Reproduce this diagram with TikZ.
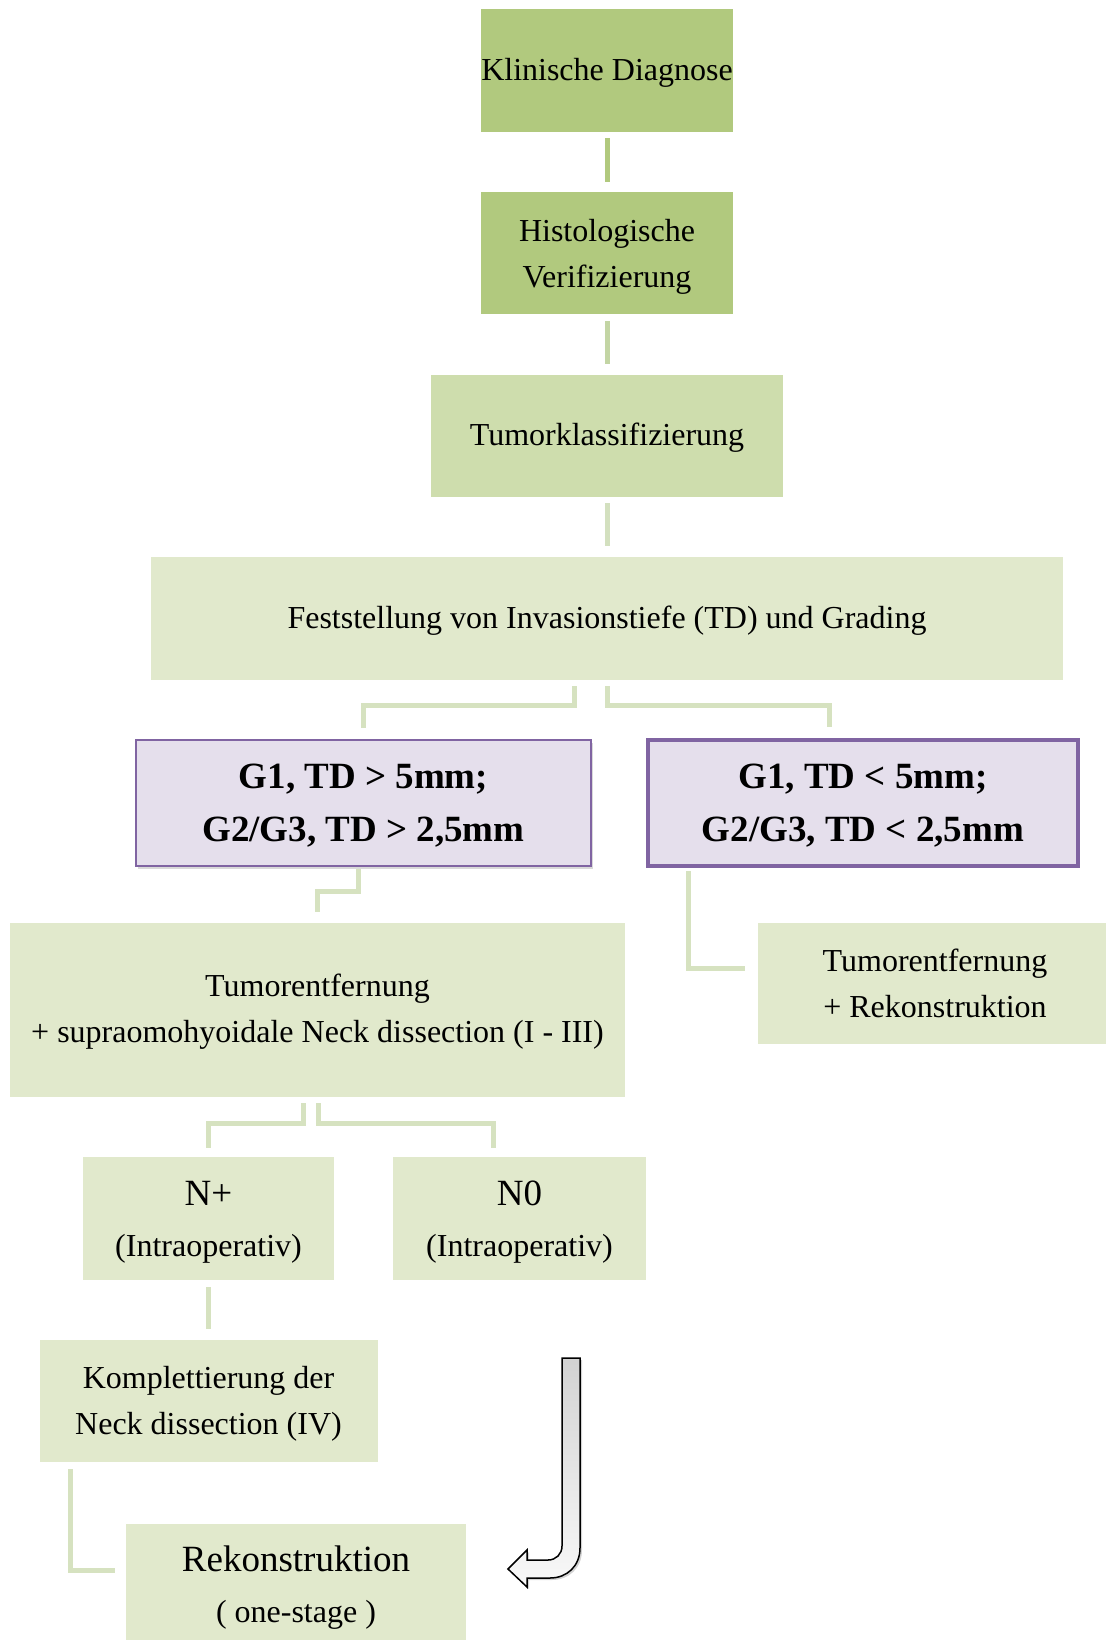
\documentclass[tikz,border=0pt]{standalone}
\usepackage{fontspec}
\setmainfont{Liberation Serif}
\usepackage{xcolor}
\usepackage{tikz}
\usetikzlibrary{positioning,calc,shadows}

\definecolor{leafgreen}{HTML}{B1C97E}
\definecolor{stemgreen}{HTML}{C3D5A4}
\definecolor{midgreen}{HTML}{CEDDAD}
\definecolor{palestem}{HTML}{D3E0BF}
\definecolor{palegreen}{HTML}{E1E9CC}
\definecolor{branchgreen}{HTML}{D6E2C0}
\definecolor{critfill}{HTML}{E5DFEC}
\definecolor{critline}{HTML}{8064A2}

\begin{document}
\begin{tikzpicture}[x=1pt, y=-1pt,
    box/.style={rectangle, inner sep=0pt, align=center, font=\fontsize{32}{46}\selectfont},
    crit/.style={rectangle, inner sep=0pt, align=center, fill=critfill, draw=critline,
        font=\fontsize{37}{53}\selectfont\bfseries},
    link/.style={line width=5pt},
    branch/.style={line width=5pt, draw=branchgreen}]
    \useasboundingbox (0,0) rectangle (1105,1640);

    % Main column
    \node[box, fill=leafgreen, minimum width=252pt, minimum height=123pt] (diag) at (607,70.5) {\rule{0pt}{26pt}Klinische Diagnose};
    \node[box, fill=leafgreen, minimum width=252pt, minimum height=122pt] (histo) at (607,253) {\rule{0pt}{30pt}Histologische\\Verifizierung};
    \node[box, fill=midgreen, minimum width=352pt, minimum height=122pt] (klass) at (607,436) {\rule{0pt}{26pt}Tumorklassifizierung};
    \node[box, fill=palegreen, minimum width=912pt, minimum height=123pt] (feststellung) at (607,618.5) {\rule{0pt}{26pt}Feststellung von Invasionstiefe (TD) und Grading};

    \draw[link, draw=leafgreen] ([yshift=-6pt]diag.south) -- ([yshift=10pt]histo.north);
    \draw[link, draw=stemgreen] ([yshift=-7pt]histo.south) -- ([yshift=11pt]klass.north);
    \draw[link, draw=palestem] ([yshift=-6pt]klass.south) -- ([yshift=11pt]feststellung.north);

    % Criteria
    \node[crit, line width=1.5pt, drop shadow={shadow xshift=2pt, shadow yshift=-3pt, opacity=0.3},
        minimum width=455pt, minimum height=126pt] (deep) at (363.5,803) {\rule{0pt}{29pt}G1, TD > 5mm;\\G2/G3, TD > 2,5mm};
    \node[crit, line width=4.5pt, minimum width=430pt, minimum height=126pt] (flat) at (863,803) {\rule{0pt}{29pt}G1, TD < 5mm;\\G2/G3, TD < 2,5mm};

    \draw[branch] ([xshift=-33pt,yshift=-6pt]feststellung.south) -- ++(0,19) -| ([yshift=11pt]deep.north);
    \draw[branch] ([yshift=-6pt]feststellung.south) -- ++(0,19) -| ([xshift=-34pt,yshift=11pt]flat.north);

    % Therapy
    \node[box, fill=palegreen, minimum width=615pt, minimum height=174pt] (resect) at (317.5,1010) {\rule{0pt}{26pt}Tumorentfernung\\+ supraomohyoidale Neck dissection (I - III)};
    \node[box, fill=palegreen, minimum width=354pt, minimum height=121pt] (resectrek) at (935,983.5) {Tumorentfernung\\+ Rekonstruktion};

    \draw[branch] ([xshift=-5pt,yshift=-2pt]deep.south) -- ++(0,23) -| ([yshift=11pt]resect.north);
    \draw[branch] ([xshift=43pt,yshift=-3pt]flat.south west) |- ([xshift=-13pt,yshift=15.5pt]resectrek.west);

    % Nodal status
    \node[box, fill=palegreen, minimum width=251pt, minimum height=123pt, font=\fontsize{32}{51}\selectfont] (nplus) at (208.5,1218.5) {\rule{0pt}{32pt}{\fontsize{37}{51}\selectfont N+}\\(Intraoperativ)};
    \node[box, fill=palegreen, minimum width=253pt, minimum height=123pt, font=\fontsize{32}{51}\selectfont] (nnull) at (519.5,1218.5) {\rule{0pt}{32pt}{\fontsize{37}{51}\selectfont N0}\\(Intraoperativ)};

    \draw[branch] ([xshift=-14.5pt,yshift=-6pt]resect.south) -- ++(0,20) -| ([yshift=9pt]nplus.north);
    \draw[branch] ([xshift=0.5pt,yshift=-6pt]resect.south) -- ++(0,20) -| ([xshift=-26.5pt,yshift=9pt]nnull.north);

    % Completion and reconstruction
    \node[box, fill=palegreen, minimum width=338pt, minimum height=122pt] (kompl) at (208.5,1401) {\rule{0pt}{28pt}Komplettierung der\\Neck dissection (IV)};
    \node[box, fill=palegreen, minimum width=340pt, minimum height=128pt, font=\fontsize{32}{51}\selectfont] (rekon) at (296,1588) {{\fontsize{37}{51}\selectfont Rekonstruktion}\\( one-stage )};

    \draw[branch] ([yshift=-7pt]nplus.south) -- ([yshift=11pt]kompl.north);
    \draw[branch] ([xshift=31pt,yshift=-7pt]kompl.south west) |- ([xshift=-11pt,yshift=18pt]rekon.west);

    % Hook arrow
    \draw[line width=1.5pt, top color=gray!35, bottom color=gray!5,
        drop shadow={shadow xshift=2pt, shadow yshift=-2pt, opacity=0.35}]
        (562,1358) -- (580,1358) -- (580,1548)
        .. controls (580,1566) and (567,1578) .. (550,1578)
        -- (527,1578) -- (527,1587) -- (508,1569) -- (527,1550) -- (527,1560) -- (548,1560)
        .. controls (556,1560) and (562,1554) .. (562,1546) -- cycle;
\end{tikzpicture}
\end{document}
